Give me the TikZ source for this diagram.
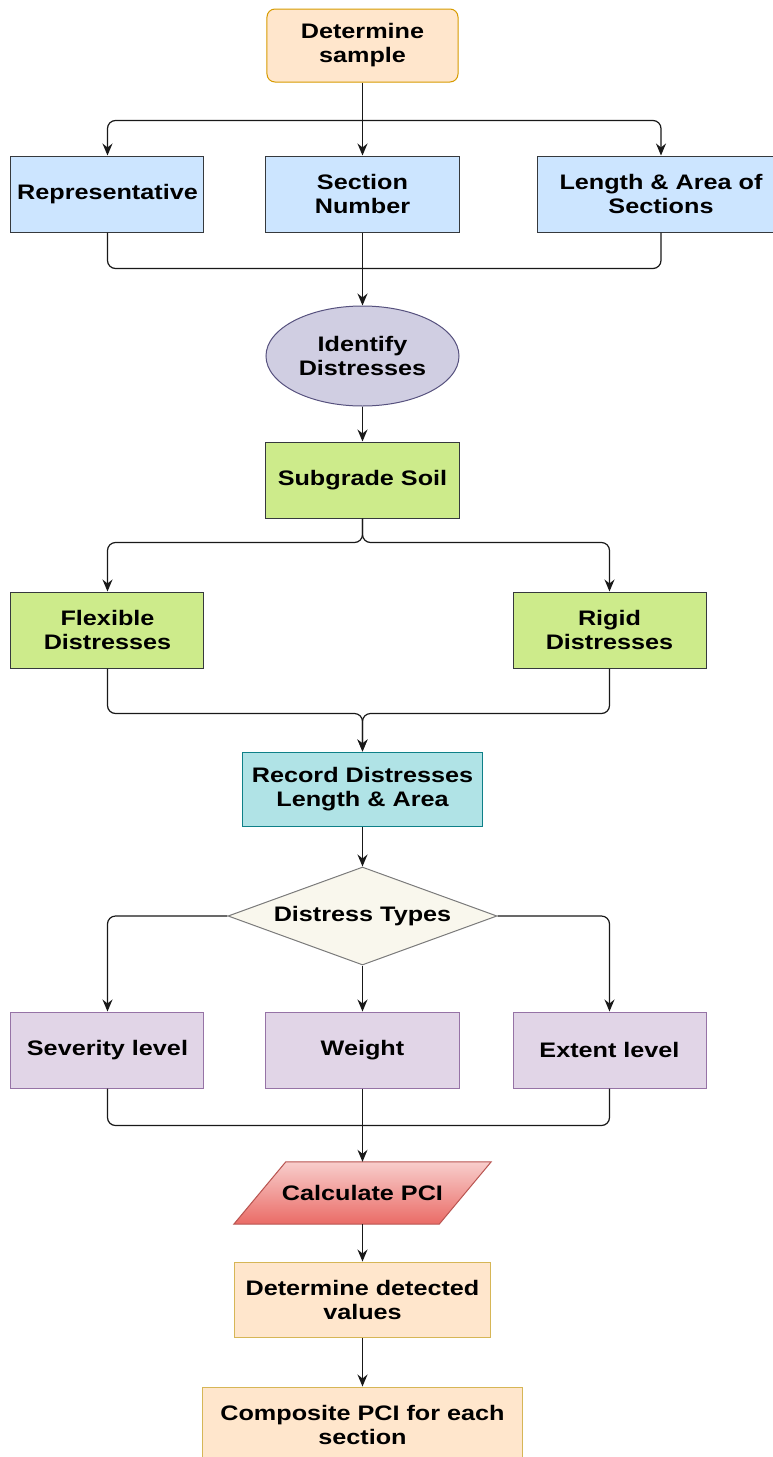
\documentclass[tikz,border=0pt]{standalone}
\usepackage{fontspec}
\setmainfont{Liberation Sans}[FakeStretch=1.2]
\usepackage{xcolor}
\usepackage{tikz}
\usetikzlibrary{shapes.geometric, arrows, arrows.meta, backgrounds}
\definecolor{samplefill}{HTML}{FFE6CC}
\definecolor{sampleline}{HTML}{D79B00}
\definecolor{infofill}{HTML}{CCE5FF}
\definecolor{darkline}{HTML}{36393D}
\definecolor{idfill}{HTML}{D0CEE2}
\definecolor{idline}{HTML}{56517E}
\definecolor{soilfill}{HTML}{CDEB8B}
\definecolor{recfill}{HTML}{B0E3E6}
\definecolor{recline}{HTML}{0E8088}
\definecolor{decfill}{HTML}{F9F7ED}
\definecolor{decline}{HTML}{7A7A7A}
\definecolor{factorfill}{HTML}{E1D5E7}
\definecolor{factorline}{HTML}{9673A6}
\definecolor{pcitop}{HTML}{F8CECC}
\definecolor{pcibot}{HTML}{EA6B66}
\definecolor{pciline}{HTML}{B85450}
\definecolor{resline}{HTML}{D6B656}
\tikzstyle{samplebox} = [rectangle, rounded corners=8pt, minimum width=191pt, minimum height=73pt, text centered, align=center, line width=1pt, draw=sampleline, fill=samplefill]
\tikzstyle{infobox} = [rectangle, minimum width=193pt, minimum height=76pt, inner sep=2pt, text centered, align=center, line width=1pt, draw=darkline, fill=infofill]
\tikzstyle{idellipse} = [ellipse, minimum width=193pt, minimum height=100pt, inner sep=0pt, text centered, align=center, line width=1pt, draw=idline, fill=idfill]
\tikzstyle{soilbox} = [rectangle, minimum width=193pt, minimum height=76pt, text centered, align=center, line width=1pt, draw=darkline, fill=soilfill]
\tikzstyle{recbox} = [rectangle, minimum width=239pt, minimum height=74pt, text centered, align=center, line width=1pt, draw=recline, fill=recfill]
\tikzstyle{decbox} = [diamond, aspect=2.7, minimum width=269pt, minimum height=98pt, inner sep=0pt, text centered, line width=1pt, draw=decline, fill=decfill]
\tikzstyle{factorbox} = [rectangle, minimum width=193pt, minimum height=76pt, text centered, align=center, line width=1pt, draw=factorline, fill=factorfill]
\tikzstyle{pcibox} = [rectangle, minimum width=205pt, minimum height=62pt, inner sep=2pt, text centered]
\tikzstyle{pcishape} = [line width=1pt, draw=pciline, top color=pcitop, bottom color=pcibot]
\tikzstyle{resbox} = [rectangle, minimum width=255pt, minimum height=75pt, text centered, align=center, line width=1pt, draw=resline, fill=samplefill]
\tikzstyle{arrow} = [line width=1.2pt, draw=black!90, ->, >={Stealth[length=12pt, width=10pt, inset=4pt]}, rounded corners=8pt]
\tikzstyle{link} = [line width=1.2pt, draw=black!90, rounded corners=8pt]

\begin{document}
\begin{tikzpicture}[node distance=150pt, font=\bfseries\fontsize{21pt}{24pt}\selectfont]
      \useasboundingbox (-362.5pt,45.5pt) rectangle (410.5pt,-1411.5pt);
      \node (start) [samplebox] {Determine\\sample};
      \node (secnum) [infobox, node distance=148.5pt, below of=start] {Section\\Number};
      \node (rep) [infobox, node distance=255pt, left of=secnum] {Representative};
      \node (lenarea) [infobox, minimum width=248pt, node distance=298.5pt, right of=secnum] {Length \& Area of\\Sections};
      \node (ident) [idellipse, node distance=162pt, below of=secnum] {Identify\\Distresses};
      \node (soil) [soilbox, node distance=124pt, below of=ident] {Subgrade Soil};
      \node (flex) [soilbox, below of=soil, xshift=-255pt] {Flexible\\Distresses};
      \node (rigid) [soilbox, below of=soil, xshift=247pt] {Rigid\\Distresses};
      \node (record) [recbox, node distance=309pt, below of=soil] {Record Distresses\\Length \& Area};
      \node (types) [decbox, node distance=127pt, below of=record] {Distress Types};
      \node (weight) [factorbox, node distance=134pt, below of=types] {Weight};
      \node (sev) [factorbox, node distance=255pt, left of=weight] {Severity level};
      \node (ext) [factorbox, node distance=247pt, right of=weight] {Extent level};
      \node (pci) [pcibox, node distance=143pt, below of=weight] {Calculate PCI};
      \node (detect) [resbox, node distance=106.5pt, below of=pci] {Determine detected\\values};
      \node (comp) [resbox, minimum width=320pt, node distance=125pt, below of=detect] {Composite PCI for each\\section};

      % slanted outline behind the PCI text
      \begin{scope}[on background layer]
        \shadedraw [pcishape] ([xshift=-26pt]pci.south west) -- ([xshift=26pt]pci.north west)
          -- ([xshift=26pt]pci.north east) -- ([xshift=-26pt]pci.south east) -- cycle;
      \end{scope}

      % split and merge points
      \coordinate (split1) at ([yshift=-38pt]start.south);
      \coordinate (merge1) at ([yshift=-36pt]rep.south);
      \coordinate (merge3) at ([yshift=-37pt]sev.south);

      \draw [arrow] (start) -- (secnum);
      \draw [arrow] (split1) -| (rep.north);
      \draw [arrow] (split1) -| (lenarea.north);
      \draw [link] (rep.south) -- (merge1) -| (lenarea.south);
      \draw [arrow] (secnum) -- (ident);
      \draw [arrow] (ident) -- (soil);
      \draw [arrow] (soil.south) -- ([yshift=-24pt]soil.south) -| (flex.north);
      \draw [arrow] (soil.south) -- ([yshift=-24pt]soil.south) -| (rigid.north);
      \draw [arrow] (flex.south) -- ([yshift=-45pt]flex.south) -| (record.north);
      \draw [arrow] (rigid.south) -- ([yshift=-45pt]rigid.south) -| (record.north);
      \draw [arrow] (record) -- (types);
      \draw [arrow] (types.west) -| (sev.north);
      \draw [arrow] (types.east) -| (ext.north);
      \draw [arrow] (types) -- (weight);
      \draw [link] (sev.south) -- (merge3) -| (ext.south);
      \draw [arrow] (weight) -- (pci);
      \draw [arrow] (pci) -- (detect);
      \draw [arrow] (detect) -- (comp);
    \end{tikzpicture}
\end{document}
